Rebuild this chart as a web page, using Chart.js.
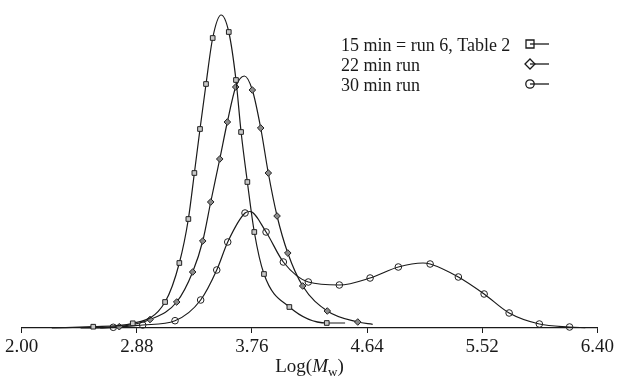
<!DOCTYPE html>
<html>
<head>
<meta charset="utf-8">
<script src="https://cdn.jsdelivr.net/npm/chart.js@4/dist/chart.umd.min.js"></script>
<style>
    html, body { margin: 0; padding: 0; background: #fff; }
    #wrap { width: 617px; height: 377px; }
</style>
</head>
<body>
<div id="wrap"><canvas id="gpcChart" width="617" height="377"></canvas></div>
<script>
// values: x = Log(Mw), y = detector height
const xTicks = [2.00, 2.88, 3.76, 4.64, 5.52, 6.40];

const logMw15 = [2.23, 2.547, 2.849, 3.096, 3.205, 3.274, 3.320, 3.363, 3.409, 3.460, 3.524, 3.583, 3.638, 3.677, 3.725, 3.778, 3.852, 4.046, 4.332, 4.472];
const height15 = [0, 1.3, 4.7, 26, 65, 109, 155, 199, 244, 290, 313, 296, 248, 196, 146, 96, 54, 21, 5, 5];
const marked15 = [0, 1, 1, 1, 1, 1, 1, 1, 1, 1, 0, 1, 1, 1, 1, 1, 1, 1, 1, 0];

const logMw22 = [2.60, 2.746, 2.981, 3.185, 3.307, 3.384, 3.445, 3.514, 3.572, 3.636, 3.702, 3.763, 3.827, 3.885, 3.952, 4.034, 4.148, 4.336, 4.569, 4.683];
const height22 = [0, 1.3, 8.5, 26, 56, 87, 126, 169, 206, 241, 252, 238, 200, 155, 112, 75, 42, 17, 6, 3.7];
const marked22 = [0, 1, 1, 1, 1, 1, 1, 1, 1, 1, 0, 1, 1, 1, 1, 1, 1, 1, 1, 0];

const logMw30 = [2.45, 2.700, 2.925, 3.172, 3.368, 3.491, 3.575, 3.707, 3.745, 3.868, 4.000, 4.191, 4.428, 4.663, 4.879, 5.068, 5.122, 5.338, 5.535, 5.726, 5.957, 6.188, 6.308];
const height30 = [0, 0.7, 3, 7.3, 28, 58, 86, 115, 116.5, 96, 66, 46, 43, 50, 61, 65, 64, 51, 34, 15, 4, 1, 0.3];
const marked30 = [0, 1, 1, 1, 1, 1, 1, 1, 0, 1, 1, 1, 1, 1, 1, 0, 1, 1, 1, 1, 1, 1, 0];

const seriesNames = ['15 min = run 6, Table 2', '22 min run', '30 min run'];

const serif = "'Liberation Serif', 'DejaVu Serif', serif";
const ink = '#1a1a1a';

function toPoints(xs, ys) {
    return xs.map((x, i) => ({ x: x, y: ys[i] }));
}

function makeSeries(label, xs, ys, marks, style, fill) {
    return {
        label: label,
        data: toPoints(xs, ys),
        borderColor: ink,
        borderWidth: 1.2,
        cubicInterpolationMode: 'monotone',
        pointStyle: style,
        pointRadius: marks.map(m => m ? 3.3 : 0),
        pointHoverRadius: 0,
        pointBorderColor: '#222',
        pointBorderWidth: 1,
        pointBackgroundColor: fill,
        clip: false
    };
}

// little symbol + line key, text to the left like the original figure
const keyPlugin = {
    id: 'keyPlugin',
    afterDraw(chart) {
        const ctx = chart.ctx;
        const styles = ['rect', 'rectRot', 'circle'];
        ctx.save();
        ctx.font = '18px ' + serif;
        ctx.fillStyle = ink;
        ctx.textBaseline = 'alphabetic';
        seriesNames.forEach((name, i) => {
            const base = 51 + i * 20;
            ctx.fillText(name, 341, base);
            const cx = 530, cy = base - 7;
            ctx.strokeStyle = ink;
            ctx.lineWidth = 1.3;
            ctx.beginPath();
            ctx.moveTo(cx, cy);
            ctx.lineTo(549, cy);
            ctx.stroke();
            ctx.beginPath();
            if (styles[i] === 'rect') {
                ctx.rect(cx - 4, cy - 4, 8, 8);
            } else if (styles[i] === 'rectRot') {
                ctx.moveTo(cx - 5, cy);
                ctx.lineTo(cx, cy - 5);
                ctx.lineTo(cx + 5, cy);
                ctx.lineTo(cx, cy + 5);
                ctx.closePath();
            } else {
                ctx.arc(cx, cy, 4.2, 0, Math.PI * 2);
            }
            ctx.stroke();
        });
        ctx.restore();
    }
};

// axis title with italic M and subscript w
const axisTitlePlugin = {
    id: 'axisTitlePlugin',
    afterDraw(chart) {
        const ctx = chart.ctx;
        const area = chart.chartArea;
        const parts = [
            { t: 'Log(', f: '19px ' + serif, dy: 0 },
            { t: 'M', f: 'italic 19px ' + serif, dy: 0 },
            { t: 'w', f: '13px ' + serif, dy: 4 },
            { t: ')', f: '19px ' + serif, dy: 0 }
        ];
        ctx.save();
        ctx.fillStyle = ink;
        ctx.textBaseline = 'alphabetic';
        let total = 0;
        parts.forEach(p => { ctx.font = p.f; p.w = ctx.measureText(p.t).width; total += p.w; });
        let x = (area.left + area.right) / 2 - total / 2;
        parts.forEach(p => {
            ctx.font = p.f;
            ctx.fillText(p.t, x, 372 + p.dy);
            x += p.w;
        });
        ctx.restore();
    }
};

document.addEventListener('DOMContentLoaded', function () {
    const ctx = document.getElementById('gpcChart').getContext('2d');

    new Chart(ctx, {
        type: 'line',
        data: {
            datasets: [
                makeSeries(seriesNames[0], logMw15, height15, marked15, 'rect', '#c8c8c8'),
                makeSeries(seriesNames[1], logMw22, height22, marked22, 'rectRot', '#8a8a8a'),
                makeSeries(seriesNames[2], logMw30, height30, marked30, 'circle', 'rgba(255,255,255,0)')
            ]
        },
        options: {
            responsive: false,
            animation: false,
            events: [],
            layout: { padding: { top: 5, left: 21.7, right: 19.7, bottom: 0 } },
            plugins: {
                legend: { display: false },
                tooltip: { enabled: false }
            },
            scales: {
                x: {
                    type: 'linear',
                    min: xTicks[0],
                    max: xTicks[xTicks.length - 1],
                    afterBuildTicks(scale) {
                        scale.ticks = xTicks.map(v => ({ value: v }));
                    },
                    afterFit(scale) {
                        scale.height = 49;
                    },
                    border: { display: true, color: ink, width: 1.2 },
                    grid: {
                        drawOnChartArea: false,
                        drawTicks: true,
                        tickLength: 5,
                        color: ink,
                        lineWidth: 1
                    },
                    ticks: {
                        autoSkip: false,
                        maxRotation: 0,
                        padding: 3,
                        color: ink,
                        font: { family: serif, size: 19 },
                        callback: v => Number(v).toFixed(2)
                    }
                },
                y: {
                    display: false,
                    min: 0,
                    max: 323
                }
            }
        },
        plugins: [keyPlugin, axisTitlePlugin]
    });
});
</script>
</body>
</html>
